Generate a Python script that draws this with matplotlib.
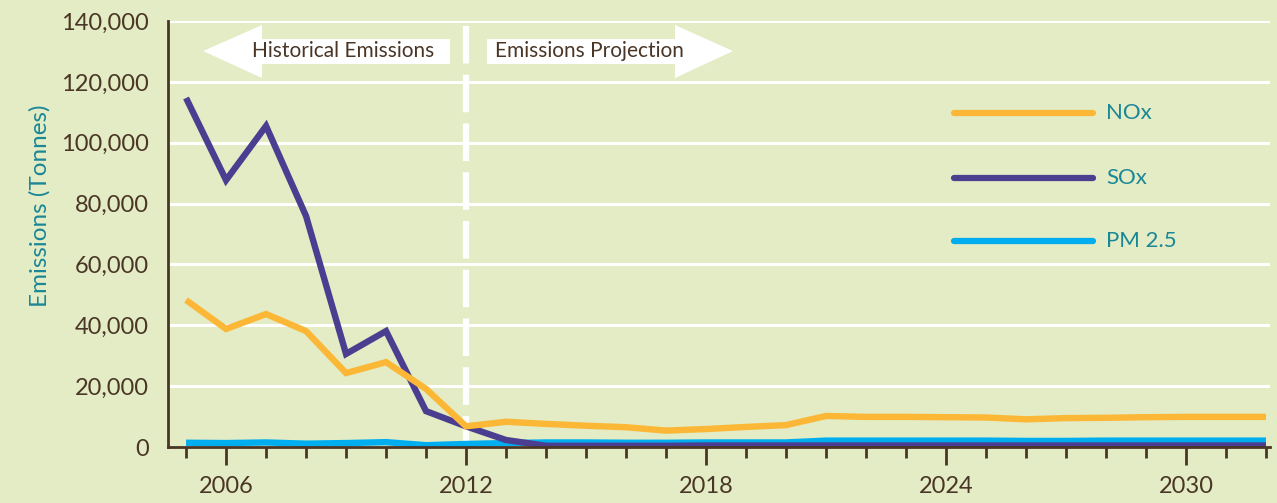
import matplotlib.pyplot as plt
from matplotlib.patches import Polygon
from matplotlib.ticker import FuncFormatter, MultipleLocator

# ====== DATA ======
years = list(range(2005, 2033))
nox = [48300, 38800, 43700, 38100, 24300, 27900, 19100, 6800, 8300, 7600,
       7000, 6500, 5400, 5900, 6600, 7200, 10200, 9900, 9900, 9800,
       9700, 9100, 9500, 9600, 9800, 9900, 9900, 9900]
sox = [114700, 87700, 105500, 75900, 30600, 38100, 11800, 6800, 2300, 400,
       400, 400, 400, 500, 500, 500, 500, 500, 500, 500,
       500, 500, 500, 500, 500, 500, 500, 500]
pm25 = [1400, 1300, 1500, 1100, 1300, 1600, 600, 1000, 1300, 1500,
        1500, 1400, 1400, 1500, 1500, 1500, 2100, 2100, 2100, 2100,
        2100, 2000, 2000, 2100, 2100, 2100, 2100, 2100]
major_years = [2006, 2012, 2018, 2024, 2030]
split_year = 2012

# ====== STYLE ======
BG = "#e3ecc4"
BROWN = "#4a3626"
TEAL = "#1a8797"
NOX_C = "#fbb735"
SOX_C = "#4b3d8f"
PM_C = "#00aeef"
FONT = "Lato"

plt.rcParams['font.family'] = [FONT, 'DejaVu Sans']

fig = plt.figure(figsize=(12.77, 5.03), dpi=100, facecolor=BG)
ax = fig.add_axes([0.1316, 0.1113, 0.8629, 0.8469])
ax.set_facecolor(BG)

ax.set_xlim(2004.55, 2032.1)
ax.set_ylim(0, 140000)

# grid
for g in range(20000, 140001, 20000):
    ax.axhline(g, color="white", lw=2.2, zorder=1)

# split line, dashes start from the top
ax.axvline(split_year, ymin=0.989, ymax=0.0, color="white", lw=4.5, dashes=(6, 1.8), zorder=2)

lw = 4.6
ax.plot(years, pm25, color=PM_C, lw=lw, solid_joinstyle='miter', solid_capstyle='butt', zorder=3)
ax.plot(years, sox, color=SOX_C, lw=lw, solid_joinstyle='miter', solid_capstyle='butt', zorder=4)
ax.plot(years, nox, color=NOX_C, lw=lw, solid_joinstyle='miter', solid_capstyle='butt', zorder=5)

# spines
for s in ['top', 'right']:
    ax.spines[s].set_visible(False)
for s in ['left', 'bottom']:
    ax.spines[s].set_color(BROWN)
    ax.spines[s].set_linewidth(2)
    ax.spines[s].set_zorder(6)

ax.set_xticks(major_years)
ax.xaxis.set_minor_locator(MultipleLocator(1))
ax.tick_params(axis='x', which='major', length=13, width=2, color=BROWN,
               labelsize=17, labelcolor=BROWN, pad=8)
ax.tick_params(axis='x', which='minor', length=8, width=2, color=BROWN)
ax.set_yticks(range(0, 140001, 20000))
ax.yaxis.set_major_formatter(FuncFormatter(lambda v, p: f"{int(v):,}"))
ax.tick_params(axis='y', length=0, labelsize=17, labelcolor=BROWN, pad=14)

fig.text(0.031, 0.59, "Emissions (Tonnes)", rotation=90, color=TEAL,
         fontsize=17.5, ha='center', va='center')

# arrows (data coordinates)
def ycoord(py):
    return (447 - py) / 60.86 * 20000

def xcoord(px):
    return 2005 + (px - 186) / 40.0

left_arrow = [(xcoord(203), ycoord(51)), (xcoord(262), ycoord(25)), (xcoord(262), ycoord(39)),
              (xcoord(450), ycoord(39)), (xcoord(450), ycoord(64)), (xcoord(262), ycoord(64)),
              (xcoord(262), ycoord(78))]
right_arrow = [(xcoord(733), ycoord(51)), (xcoord(675), ycoord(25)), (xcoord(675), ycoord(39)),
               (xcoord(487), ycoord(39)), (xcoord(487), ycoord(64)), (xcoord(675), ycoord(64)),
               (xcoord(675), ycoord(78))]
for pts in (left_arrow, right_arrow):
    ax.add_patch(Polygon(pts, closed=True, facecolor="white", edgecolor="none", zorder=7, clip_on=False))
ax.text(xcoord(343), ycoord(51), "Historical Emissions", color=BROWN, fontsize=15,
        ha='center', va='center', zorder=8)
ax.text(xcoord(589), ycoord(51), "Emissions Projection", color=BROWN, fontsize=15,
        ha='center', va='center', zorder=8)

# legend
leg_items = [("NOx", NOX_C, 113), ("SOx", SOX_C, 178), ("PM 2.5", PM_C, 241)]
for label, col, py in leg_items:
    yf = 1 - py / 503
    fig.add_artist(plt.Line2D([954 / 1277, 1093 / 1277], [yf, yf], color=col, lw=4.5,
                              solid_capstyle='round'))
    fig.text(1106 / 1277, yf, label, color=TEAL, fontsize=16, ha='left', va='center')

fig.savefig("out.png", dpi=100, facecolor=BG)
